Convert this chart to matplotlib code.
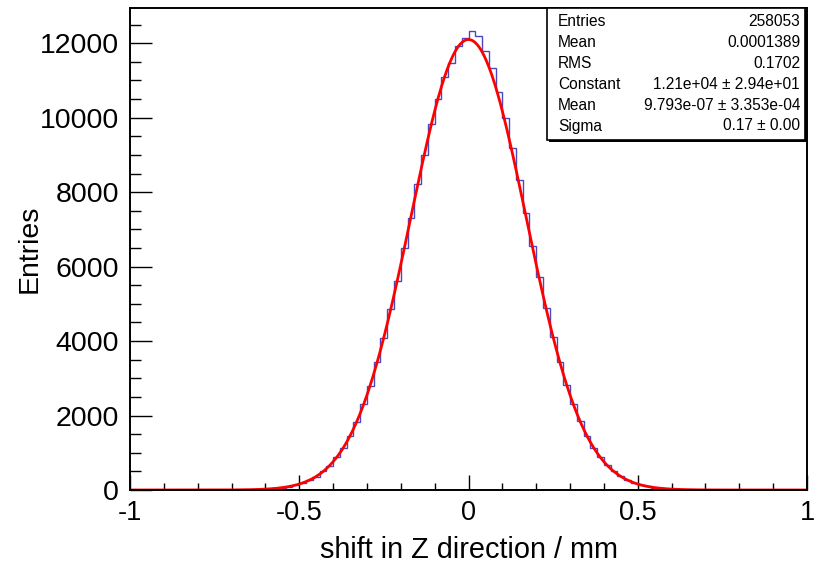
import numpy as np
import matplotlib.pyplot as plt
from matplotlib.patches import Rectangle
from matplotlib.ticker import MultipleLocator, FuncFormatter

plt.rcParams['font.family'] = ['Liberation Sans', 'DejaVu Sans']
plt.rcParams['axes.unicode_minus'] = False

# histogramm: 100 bins von -1 bis 1
x_min, x_max, n_bins = -1.0, 1.0, 100
counts_left = [0] * 13 + [1, 2, 3, 5, 8, 13, 18, 30, 43, 66,
                          92, 135, 188, 268, 360, 497, 655, 875, 1120, 1460,
                          1820, 2310, 2800, 3450, 4080, 4870, 5620, 6500, 7300, 8230,
                          9010, 9830, 10500, 11080, 11480, 11930, 12150]
counts_right = [12330, 12190, 11790, 11340, 10700, 9980, 9180, 8330, 7450, 6560,
                5720, 4880, 4120, 3440, 2830, 2300, 1850, 1460, 1140, 880,
                670, 500, 370, 268, 192, 135, 95, 66, 44, 29,
                19, 12, 8, 5, 3, 2, 1] + [0] * 13
counts = np.array(counts_left + counts_right)

# fit parameter (gaus)
fit_const = 1.21e4
fit_mean = 9.793e-07
fit_sigma = 0.1700

# statistik box
stat_names = ["Entries", "Mean", "RMS", "Constant", "Mean", "Sigma"]
stat_values = ["258053", "0.0001389", "0.1702",
               "1.21e+04 \u00b1 2.94e+01", "9.793e-07 \u00b1 3.353e-04", "0.17 \u00b1 0.00"]

W, H = 815, 568
fig = plt.figure(figsize=(W / 100, H / 100), dpi=100)
ax = fig.add_axes([130 / W, 1 - 490 / H, 677 / W, 482 / H])

edges = np.linspace(x_min, x_max, n_bins + 1)
ax.stairs(counts, edges, color='#4848c4', lw=1.0)

xf = np.linspace(x_min, x_max, 800)
yf = fit_const * np.exp(-0.5 * ((xf - fit_mean) / fit_sigma) ** 2)
ax.plot(xf, yf, color='red', lw=2.0)

ax.set_xlim(x_min, x_max)
ax.set_ylim(0, counts.max() * 1.05)

# achsen im ROOT stil
ax.xaxis.set_major_locator(MultipleLocator(0.5))
ax.xaxis.set_minor_locator(MultipleLocator(0.1))
ax.yaxis.set_major_locator(MultipleLocator(2000))
ax.yaxis.set_minor_locator(MultipleLocator(500))
ax.xaxis.set_major_formatter(FuncFormatter(lambda v, p: '%g' % v))
ax.tick_params(axis='x', which='major', direction='in', length=10.5, width=1, labelsize=19.5, pad=7)
ax.tick_params(axis='x', which='minor', direction='in', length=5, width=1)
ax.tick_params(axis='y', which='major', direction='in', length=15.5, width=1, labelsize=20.5, pad=8)
ax.tick_params(axis='y', which='minor', direction='in', length=7.8, width=1)
for s in ax.spines.values():
    s.set_linewidth(1.4)

ax.set_xlabel('shift in Z direction / mm', fontsize=20.8)
ax.set_ylabel('Entries', fontsize=20.5)
ax.xaxis.set_label_coords(0.5, -(550 - 490) / 482)
ax.yaxis.set_label_coords(-(130 - 30) / 677, 0.5)
ax.xaxis.label.set_va('center')
ax.yaxis.label.set_va('center')

# stat box mit schatten
bx0, bx1, by0, by1 = 547, 805, 8, 140
def fx(px): return px / W
def fy(py): return 1 - py / H
fig.patches.append(Rectangle((fx(bx0 + 1.5), fy(by1 + 1.5)), fx(bx1 - bx0), (by1 - by0) / H,
                             transform=fig.transFigure, facecolor='black', edgecolor='none'))
fig.patches.append(Rectangle((fx(bx0), fy(by1)), fx(bx1 - bx0), (by1 - by0) / H,
                             transform=fig.transFigure, facecolor='white', edgecolor='black', lw=1.2))
row_y = np.linspace(21.5, 126, len(stat_names))
for name, val, yy in zip(stat_names, stat_values, row_y):
    fig.text(fx(558), fy(yy), name, fontsize=11.2, ha='left', va='center')
    fig.text(fx(800), fy(yy), val, fontsize=11.2, ha='right', va='center')

plt.savefig('out.png', dpi=100)
